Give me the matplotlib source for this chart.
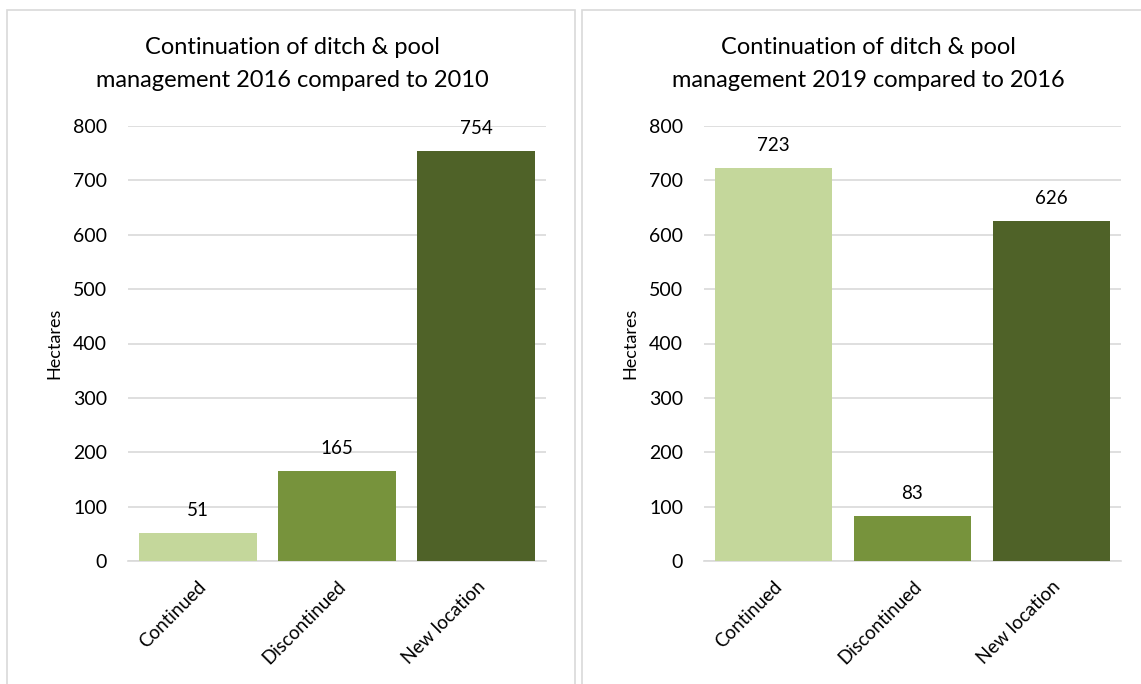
import matplotlib
matplotlib.use("Agg")
import matplotlib.pyplot as plt
from matplotlib.patches import Rectangle

categories = ["Continued", "Discontinued", "New location"]
values_2016 = [51, 165, 754]
values_2019 = [723, 83, 626]
titles = ["Continuation of ditch & pool\nmanagement 2016 compared to 2010",
          "Continuation of ditch & pool\nmanagement 2019 compared to 2016"]
yticks = [0, 100, 200, 300, 400, 500, 600, 700, 800]
bar_colors = ["#C4D79B", "#77933C", "#4F6228"]

plt.rcParams["font.family"] = ["Lato", "DejaVu Sans"]

W, H = 1141, 684
fig = plt.figure(figsize=(W / 100, H / 100), dpi=100)

# panel frames
for x0, x1 in [(7, 575), (582, 1150)]:
    fig.patches.append(Rectangle((x0 / W, -0.1), (x1 - x0) / W, (H - 10) / H + 0.1,
                                 transform=fig.transFigure, fill=False,
                                 edgecolor="#D9D9D9", linewidth=1.2))

axes_specs = [(128, 546, values_2016, titles[0], 292),
              (704, 1121, values_2019, titles[1], 868)]

for left, right, vals, title, tx in axes_specs:
    ax = fig.add_axes([left / W, 1 - 561 / H, (right - left) / W, (561 - 126) / H])
    x = range(len(categories))
    ax.bar(x, vals, width=0.845, color=bar_colors, zorder=3)
    ax.set_xlim(-0.5, 2.5)
    ax.set_ylim(0, 800)
    ax.set_yticks(yticks)
    ax.set_yticklabels([str(t) for t in yticks], fontsize=14)
    ax.tick_params(axis="y", length=0, pad=15)
    ax.tick_params(axis="x", length=0, pad=12)
    ax.set_xticks(list(x))
    ax.set_xticklabels(categories, rotation=45, ha="right", rotation_mode="anchor",
                       fontsize=13.5)
    ax.grid(axis="y", color="#D9D9D9", linewidth=1.2, zorder=0)
    for s in ["top", "right", "left"]:
        ax.spines[s].set_visible(False)
    ax.spines["bottom"].set_color("#D9D9D9")
    ax.spines["bottom"].set_linewidth(1.2)
    ax.set_ylabel("Hectares", fontsize=13, labelpad=8)
    for i, v in enumerate(vals):
        ax.annotate(str(v), (i, v), xytext=(0, 10), textcoords="offset points",
                    ha="center", va="bottom", fontsize=13.5)
    fig.text(tx / W, 1 - 64 / H, title, ha="center", va="center", fontsize=17,
             linespacing=1.65)

fig.savefig("out.png", dpi=100)
